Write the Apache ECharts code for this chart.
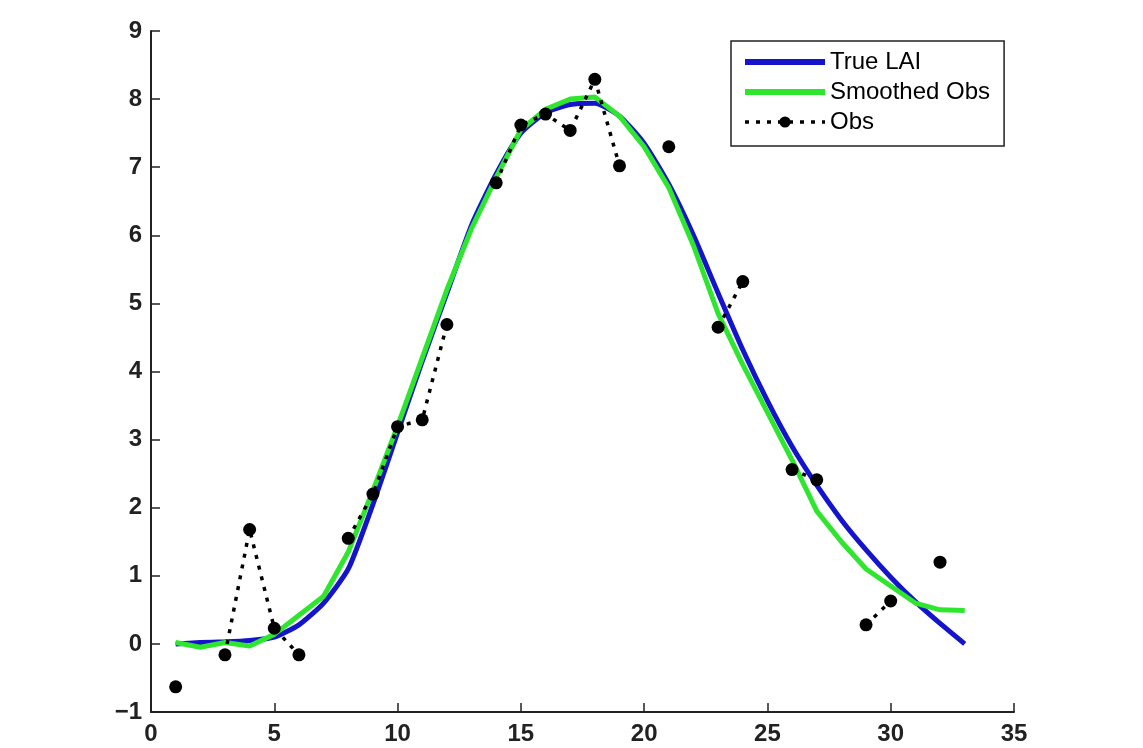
<!DOCTYPE html>
<html>
<head>
<meta charset="utf-8">
<script src="https://cdn.jsdelivr.net/npm/echarts@6/dist/echarts.min.js"></script>
<style>
html,body{margin:0;padding:0;background:#fff;}
#chart{width:1143px;height:748px;}
</style>
</head>
<body>
<div id="chart"></div>
<script>
const xValues = [1,2,3,4,5,6,7,8,9,10,11,12,13,14,15,16,17,18,19,20,21,22,23,24,25,26,27,28,29,30,31,32,33];
const trueLAI = [0.0,0.02,0.03,0.05,0.1,0.28,0.6,1.1,2.05,3.1,4.15,5.15,6.15,6.9,7.5,7.8,7.92,7.94,7.75,7.35,6.75,6.0,5.15,4.32,3.57,2.9,2.33,1.82,1.38,0.98,0.62,0.3,0.0];
const smoothedObs = [0.02,-0.05,0.02,-0.03,0.14,0.42,0.7,1.35,2.25,3.2,4.2,5.2,6.1,6.85,7.55,7.85,8.0,8.03,7.75,7.3,6.7,5.85,4.85,4.1,3.4,2.7,1.95,1.5,1.1,0.85,0.6,0.5,0.49];
const obs = [-0.63,null,-0.16,1.68,0.23,-0.16,null,1.55,2.2,3.19,3.29,4.69,null,6.77,7.62,7.78,7.54,8.29,7.02,null,7.30,null,4.65,5.32,null,2.56,2.41,null,0.28,0.63,null,1.2,null];
const seriesNames = ['True LAI','Smoothed Obs','Obs'];

const pairs = arr => xValues.map((x,i) => [x, arr[i] === null ? '-' : arr[i]]);
const FONT = '"Liberation Sans", Arial, sans-serif';

const chart = echarts.init(document.getElementById('chart'), null, {renderer:'canvas'});
chart.setOption({
  animation: false,
  backgroundColor: '#fff',
  grid: {left: 151, right: 129, top: 31, bottom: 36, containLabel: false},
  legend: {
    orient: 'vertical',
    left: 731, top: 41,
    padding: [9, 14, 12, 11],
    itemGap: 6,
    itemWidth: 80,
    itemHeight: 14,
    borderColor: '#222',
    borderWidth: 1.5,
    backgroundColor: '#fff',
    selectedMode: false,
    textStyle: {fontFamily: FONT, fontSize: 24, color: '#000'},
    data: [
      {name: seriesNames[0], itemStyle: {opacity: 0}, lineStyle: {width: 6}},
      {name: seriesNames[1], itemStyle: {opacity: 0}, lineStyle: {width: 6}},
      {name: seriesNames[2], lineStyle: {width: 3.5}}
    ]
  },
  xAxis: {
    type: 'value', min: 0, max: 35, interval: 5,
    axisLine: {show: true, onZero: false, lineStyle: {color: '#222', width: 2}},
    axisTick: {show: true, inside: true, length: 9, lineStyle: {color: '#222', width: 1.5}},
    axisLabel: {fontFamily: FONT, fontSize: 24, fontWeight: 'bold', color: '#222', margin: 10},
    splitLine: {show: false}
  },
  yAxis: {
    type: 'value', min: -1, max: 9, interval: 1,
    axisLine: {show: true, onZero: false, lineStyle: {color: '#222', width: 2}},
    axisTick: {show: true, inside: true, length: 9, lineStyle: {color: '#222', width: 1.5}},
    axisLabel: {fontFamily: FONT, fontSize: 24, fontWeight: 'bold', color: '#222', margin: 9,
      formatter: v => String(v).replace('-', '\u2212')},
    splitLine: {show: false}
  },
  series: [
    {
      name: seriesNames[0], type: 'line', data: pairs(trueLAI),
      symbol: 'none', smooth: 0.2,
      lineStyle: {color: '#1414cc', width: 5},
      itemStyle: {color: '#1414cc'}, z: 2
    },
    {
      name: seriesNames[1], type: 'line', data: pairs(smoothedObs),
      symbol: 'none', smooth: false,
      lineStyle: {color: '#2fe62f', width: 5},
      itemStyle: {color: '#2fe62f'}, z: 3
    },
    {
      name: seriesNames[2], type: 'line', data: pairs(obs),
      symbol: 'circle', symbolSize: 13, showSymbol: true, showAllSymbol: true,
      connectNulls: false,
      lineStyle: {color: '#000', width: 3.5, type: [4, 7]},
      itemStyle: {color: '#000'}, z: 4
    }
  ]
});
</script>
</body>
</html>
